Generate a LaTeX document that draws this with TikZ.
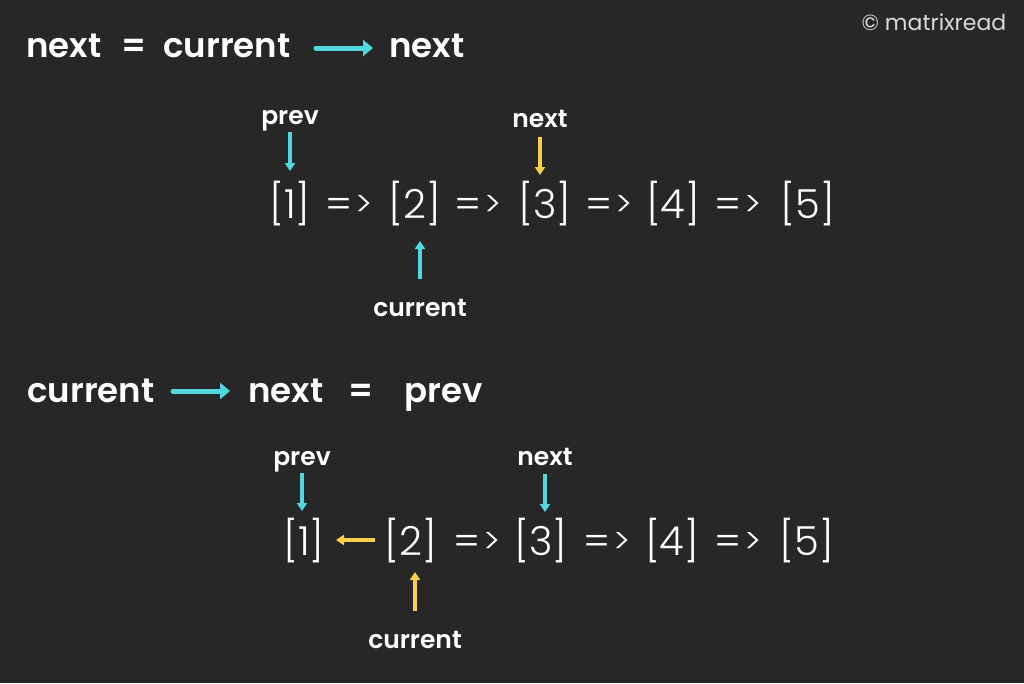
\documentclass[tikz,border=0pt]{standalone}
\usepackage{fontspec}
\setmainfont{Poppins}
\newfontfamily\hbold{Poppins SemiBold}
\newfontfamily\hlight{Poppins Light}
\usetikzlibrary{arrows.meta,calc}
\definecolor{bgc}{HTML}{272727}
\definecolor{cy}{HTML}{4FD8E0}
\definecolor{ye}{HTML}{F8D04A}
\definecolor{wm}{HTML}{DADADA}
\newcommand{\imp}{=\kern3pt\raisebox{1.5pt}{\fontsize{35}{36}\selectfont >}}
\tikzset{
  head/.style={text=white,inner sep=0pt,anchor=base,font=\hbold\fontsize{34}{40}\selectfont},
  tok/.style={text=white,inner sep=0pt,anchor=base,font=\hlight\fontsize{40}{48}\selectfont},
  lab/.style={text=white,inner sep=0pt,anchor=base,font=\hbold\fontsize{25}{30}\selectfont},
  bigarr/.style={line width=5pt,-{Triangle[length=10pt,width=16pt]},line cap=round},
  smarr/.style={line width=3.2pt,-{Triangle[length=8pt,width=10pt]}},
}
\begin{document}
\begin{tikzpicture}[x=1pt,y=-1pt]
\fill[bgc] (0,0) rectangle (1024,683);
\useasboundingbox (0,0) rectangle (1024,683);
% watermark
\node[text=wm,inner sep=0pt,anchor=base,font=\fontsize{22}{26}\selectfont] (wmk) at (934,30) {\textcopyright{} matrixread};
% heading 1
\node[head] (h1) at (64,57) {next};
\node[head] (h2) at (134,57) {=};
\node[head] (h3) at (227,57) {current};
\node[head] (h4) at (427,57) {next};
\draw[bigarr,cy] ($(h3.base)+(89,-9)$) -- ($(h4.base)+(-54,-9)$);
% list 1
\node[tok] (t1) at (290,218) {[1]};
\node[tok] (e1) at (349,218) {\imp};
\node[tok] (t2) at (415,218) {[2]};
\node[tok] (e2) at (478,218) {\imp};
\node[tok] (t3) at (545,218) {[3]};
\node[tok] (e3) at (609,218) {\imp};
\node[tok] (t4) at (673,218) {[4]};
\node[tok] (e4) at (738,218) {\imp};
\node[tok] (t5) at (808,218) {[5]};
\node[lab] (pA) at (290,124) {prev};
\node[lab] (nA) at (540,127) {next};
\node[lab] (cA) at (420,316) {current};
\draw[smarr,cy] ($(pA.base)+(0,8)$) -- ($(pA.base |- t1.base)+(0,-47)$);
\draw[smarr,ye] ($(nA.base)+(0,10)$) -- ($(nA.base |- t3.base)+(0,-43)$);
\draw[smarr,cy] ($(cA.base)+(0,-37)$) -- ($(cA.base |- t2.base)+(0,23)$);
% heading 2
\node[head] (h5) at (91,402) {current};
\node[head] (h6) at (286,402) {next};
\node[head] (h7) at (361,402) {=};
\node[head] (h8) at (444,402) {prev};
\draw[bigarr,cy] ($(h5.base)+(82,-11)$) -- ($(h6.base)+(-56,-11)$);
% list 2
\node[tok] (u1) at (304,555) {[1]};
\node[tok] (u2) at (411,555) {[2]};
\node[tok] (f2) at (477,555) {\imp};
\node[tok] (u3) at (541,555) {[3]};
\node[tok] (f3) at (607,555) {\imp};
\node[tok] (u4) at (672,555) {[4]};
\node[tok] (f4) at (738,555) {\imp};
\node[tok] (u5) at (807,555) {[5]};
\node[lab] (pB) at (302,465) {prev};
\node[lab] (nB) at (545,465) {next};
\node[lab] (cB) at (415,648) {current};
\draw[smarr,cy] ($(pB.base)+(0,8)$) -- ($(pB.base |- u1.base)+(0,-44)$);
\draw[smarr,cy] ($(nB.base)+(0,9)$) -- ($(nB.base |- u3.base)+(0,-43)$);
\draw[smarr,ye] ($(cB.base)+(0,-37)$) -- ($(cB.base |- u2.base)+(0,17)$);
\draw[smarr,ye] ($(u2.base)+(-36,-15)$) -- ($(u1.base)+(32,-15)$);
\end{tikzpicture}
\end{document}
